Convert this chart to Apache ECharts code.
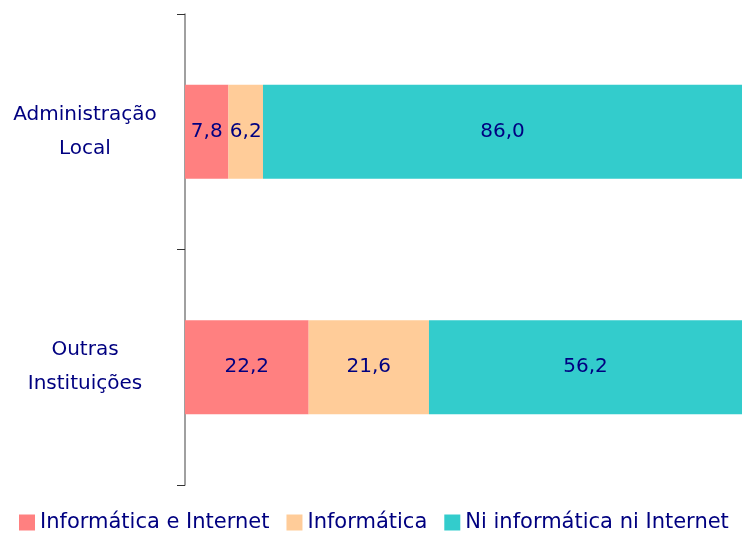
<!DOCTYPE html>
<html><head><meta charset="utf-8">
<script src="https://cdn.jsdelivr.net/npm/echarts@6/dist/echarts.min.js"></script>
<style>html,body{margin:0;padding:0;background:#fff}#c{width:742px;height:535px}</style>
</head><body><div id="c"></div>
<script>
const categories = ['Administração\nLocal', 'Outras\nInstituições'];
const seriesNames = ['Informática e Internet', 'Informática', 'Ni informática ni Internet'];
const infInternet = [7.8, 22.2];
const informatica = [6.2, 21.6];
const nenhum = [86.0, 56.2];
const colors = ['#FF8080', '#FFCC99', '#33CCCC'];
const FONT = 'DejaVu Sans';
const TXT = '#000080';

const chart = echarts.init(document.getElementById('c'), null, {renderer: 'canvas'});
const mk = (name, data, color) => ({
  name, type: 'bar', stack: 'a', data, barWidth: 94,
  itemStyle: {color},
  label: {show: true, position: 'inside', color: TXT, fontFamily: FONT, fontSize: 20,
    formatter: p => p.value.toFixed(1).replace('.', ',')},
  emphasis: {disabled: true}
});
chart.setOption({
  animation: false,
  grid: {left: 185, right: 0, top: 14, bottom: 50},
  xAxis: {type: 'value', min: 0, max: 100, show: false},
  yAxis: {type: 'category', inverse: true, data: categories,
    axisLine: {show: true, lineStyle: {color: '#808080', width: 1.5}},
    axisTick: {show: true, length: 8, lineStyle: {color: '#333'}},
    axisLabel: {color: TXT, fontFamily: FONT, fontSize: 20, lineHeight: 34, align: 'center', margin: 100}
  },
  legend: {bottom: -3, left: 14, itemWidth: 16, itemHeight: 16, itemGap: 17, itemStyle: {borderWidth: 0}, icon: 'rect',
    textStyle: {color: TXT, fontFamily: FONT, fontSize: 21},
    data: seriesNames},
  series: [mk(seriesNames[0], infInternet, colors[0]), mk(seriesNames[1], informatica, colors[1]), mk(seriesNames[2], nenhum, colors[2])]
});
</script></body></html>
